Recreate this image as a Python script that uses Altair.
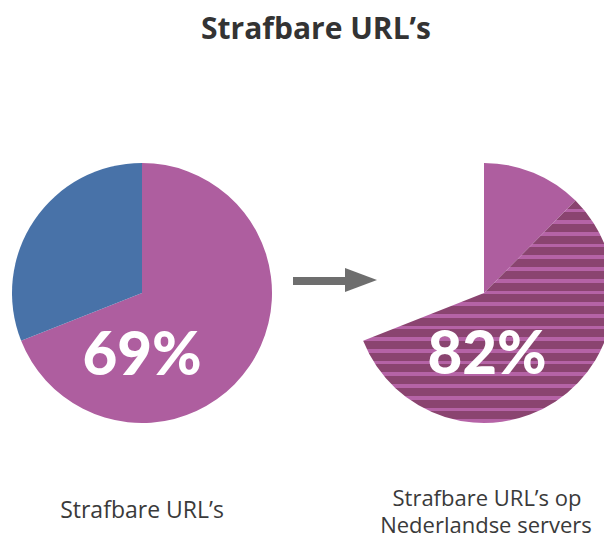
import altair as alt
import pandas as pd

# ---- data ----
left_labels = ["Strafbaar", "Overig"]
left_values = [69, 31]
right_labels = ["Buitenland", "Nederlandse servers", "Leeg"]
share_nl = 82  # percent of the strafbare URL's on Dutch servers

title_text = "Strafbare URL\u2019s"
left_caption = ["Strafbare URL\u2019s"]
right_caption = ["Strafbare URL\u2019s op", "Nederlandse servers"]
left_pct = "69%"
right_pct = "82%"

PINK = "#ae5e9f"
BLUE = "#4872a8"
DARK = "#8a4470"
LIGHT = "#b563a6"
GREY = "#6e6e6e"
TXT = "#3a3a3a"

# left pie table
lstart, lend = [], []
acc = 0
for v in left_values:
    lstart.append(acc)
    acc += v
    lend.append(acc)
left_df = pd.DataFrame({"label": left_labels, "start": lstart, "end": lend})

# right pie: the 69% split in non-Dutch (18%) and Dutch (82%)
strafbaar = left_values[0]
nl_part = strafbaar * share_nl / 100
rest_part = strafbaar - nl_part
right_df = pd.DataFrame({
    "label": right_labels[:2],
    "start": [0, rest_part],
    "end": [rest_part, strafbaar],
})

R = 130
LX, LY = 134, 285
RX, RY = 476, 285

theta_scale = alt.Scale(domain=[0, 100], range=[0, 6.283185307179586])

left_pie = alt.Chart(left_df).mark_arc(radius=R, stroke=None).encode(
    theta=alt.Theta("start:Q", scale=theta_scale),
    theta2="end:Q",
    color=alt.Color("label:N", scale=alt.Scale(domain=left_labels, range=[PINK, BLUE]), legend=None),
    x=alt.value(LX), y=alt.value(LY),
)

right_light = alt.Chart(right_df[right_df.label == right_labels[0]]).mark_arc(radius=R, color=PINK).encode(
    theta=alt.Theta("start:Q", scale=theta_scale),
    theta2="end:Q",
    x=alt.value(RX), y=alt.value(RY),
)

# horizontal stripe fill via hard-stop gradient
n = 19
stops = []
for i in range(n):
    a = i / n
    b = (i + 0.68) / n
    c = (i + 1) / n
    stops += [
        alt.GradientStop(offset=a, color=DARK),
        alt.GradientStop(offset=b, color=DARK),
        alt.GradientStop(offset=b, color=LIGHT),
        alt.GradientStop(offset=c, color=LIGHT),
    ]
stripes = alt.LinearGradient(gradient="linear", stops=stops, x1=0, x2=0, y1=0, y2=1)

right_striped = alt.Chart(right_df[right_df.label == right_labels[1]]).mark_arc(radius=R, color=stripes).encode(
    theta=alt.Theta("start:Q", scale=theta_scale),
    theta2="end:Q",
    x=alt.value(RX), y=alt.value(RY),
)

one = pd.DataFrame({"a": [0]})

def txt(t, x, y, size, weight="normal", color=TXT, font="Open Sans"):
    return alt.Chart(one).mark_text(
        text=t, fontSize=size, fontWeight=weight, color=color, font=font,
        align="center", baseline="alphabetic"
    ).encode(x=alt.value(x), y=alt.value(y))

arrow_shaft = alt.Chart(one).mark_rule(color=GREY, strokeWidth=8).encode(
    x=alt.value(285), x2=alt.value(340), y=alt.value(273)
)
arrow_head = alt.Chart(one).mark_point(
    shape="M-1,-0.75L1,0L-1,0.75Z", filled=True, fill=GREY, stroke=None, opacity=1, size=1024
).encode(x=alt.value(353), y=alt.value(272))

layers = [
    left_pie, right_light, right_striped, arrow_shaft, arrow_head,
    txt(title_text, 308, 31, 30, "bold", "#333333"),
    txt(left_pct, LX, 367, 60, 900, "white", "Lato"),
    txt(right_pct, 479, 366, 60, 900, "white", "Lato"),
    txt(left_caption[0], 134, 510, 23),
    txt(right_caption[0], 479, 498, 22),
    txt(right_caption[1], 478, 525, 22),
]

chart = alt.layer(*layers).properties(
    width=596, height=530, autosize=alt.AutoSizeParams(type="none"), padding=0
).configure_view(stroke=None)

chart.save("out.html", embed_options={"renderer": "svg", "actions": False})
